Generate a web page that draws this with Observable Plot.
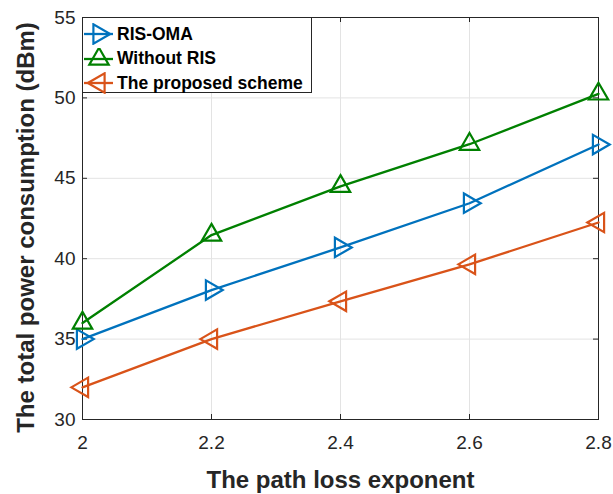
<!DOCTYPE html>
<html>
<head>
<meta charset="utf-8">
<script src="https://cdn.jsdelivr.net/npm/d3@7"></script>
<script src="https://cdn.jsdelivr.net/npm/@observablehq/plot@0.6"></script>
<style>
  html, body { margin: 0; padding: 0; background: white; }
  #wrap { position: relative; width: 613px; height: 494px; font-family: "Liberation Sans", Arial, sans-serif; }
  #legend { position: absolute; left: 82px; top: 17px; width: 230px; height: 76px; border: 1px solid #262626; background: white; box-sizing: border-box; padding-top: 4px; }
  .row { display: flex; align-items: center; height: 24.5px; font-weight: bold; font-size: 17.5px; color: #000; }
  .row svg { display: block; margin-right: 3px; }
</style>
</head>
<body>
<div id="wrap"><div id="legend"></div></div>
<script>
const exponents = [2, 2.2, 2.4, 2.6, 2.8];
const seriesNames = ["RIS-OMA", "Without RIS", "The proposed scheme"];
const risOma = [35.0, 38.05, 40.7, 43.45, 47.1];
const withoutRis = [36.0, 41.47, 44.5, 47.12, 50.25];
const proposed = [32.0, 35.0, 37.35, 39.65, 42.25];
const colors = ["#0072BD", "#008000", "#D95319"];
const rotations = [90, 0, -90];
const xTicks = [2, 2.2, 2.4, 2.6, 2.8];
const yTicks = [30, 35, 40, 45, 50, 55];

const seriesValues = [risOma, withoutRis, proposed];
const rows = [];
seriesNames.forEach((name, i) => {
  exponents.forEach((x, j) => rows.push({x, y: seriesValues[i][j], series: name, rot: rotations[i]}));
});

const W = 613, H = 494, mL = 82, mR = 15, mT = 17, mB = 75;
const fW = W - mL - mR, fH = H - mT - mB;
const axisColor = "#262626";
const markerR = 7.2;

const chart = Plot.plot({
  width: W, height: H,
  marginLeft: mL, marginRight: mR, marginTop: mT, marginBottom: mB,
  style: {fontFamily: "'Liberation Sans', Arial, sans-serif", fontSize: "19px", color: axisColor, background: "white", overflow: "visible"},
  x: {domain: [2, 2.8]},
  y: {domain: [30, 55]},
  color: {domain: seriesNames, range: colors},
  marks: [
    Plot.gridX(xTicks, {stroke: "#e3e3e3", strokeOpacity: 1, strokeWidth: 1}),
    Plot.gridY(yTicks, {stroke: "#e3e3e3", strokeOpacity: 1, strokeWidth: 1}),
    Plot.axisX(xTicks, {tickSize: 0, tickPadding: 16, label: null, fontSize: 19, fill: axisColor, tickFormat: d => String(d)}),
    Plot.axisY(yTicks, {tickSize: 0, tickPadding: 7, label: null, fontSize: 19, fill: axisColor}),
    Plot.tickX(xTicks, {x: d => d, insetTop: fH - 5, stroke: axisColor}),
    Plot.tickX(xTicks, {x: d => d, insetBottom: fH - 5, stroke: axisColor}),
    Plot.tickY(yTicks, {y: d => d, insetRight: fW - 5, stroke: axisColor}),
    Plot.tickY(yTicks, {y: d => d, insetLeft: fW - 5, stroke: axisColor}),
    Plot.frame({stroke: axisColor, strokeWidth: 1}),
    Plot.line(rows, {x: "x", y: "y", z: "series", stroke: "series", strokeWidth: 2.3}),
    Plot.dot(rows, {x: "x", y: "y", stroke: "series", symbol: "triangle", r: markerR, rotate: "rot", strokeWidth: 2.2, fill: "none"}),
    Plot.text(["The path loss exponent"], {text: d => d, frameAnchor: "bottom", lineAnchor: "bottom", dy: 68, fontSize: 24, fontWeight: "bold", fill: axisColor}),
    Plot.text(["The total power consumption (dBm)"], {text: d => d, frameAnchor: "left", textAnchor: "middle", lineAnchor: "bottom", rotate: -90, dx: -49, dy: 9, fontSize: 24, fontWeight: "bold", fill: axisColor})
  ]
});
document.getElementById("wrap").prepend(chart);

// Legend
const legend = d3.select("#legend");
seriesNames.forEach((name, i) => {
  const row = legend.append("div").attr("class", "row");
  const s = row.append("svg").attr("width", 30).attr("height", 22).style("margin-left", "1px");
  s.append("line").attr("x1", 0).attr("x2", 29).attr("y1", 11).attr("y2", 11)
    .attr("stroke", colors[i]).attr("stroke-width", 2.3);
  s.append("path").attr("d", d3.symbol(d3.symbolTriangle, Math.PI * markerR * markerR)())
    .attr("transform", `translate(15,11) rotate(${rotations[i]})`)
    .attr("fill", "none").attr("stroke", colors[i]).attr("stroke-width", 2.2);
  row.append("span").text(name);
});
</script>
</body>
</html>
